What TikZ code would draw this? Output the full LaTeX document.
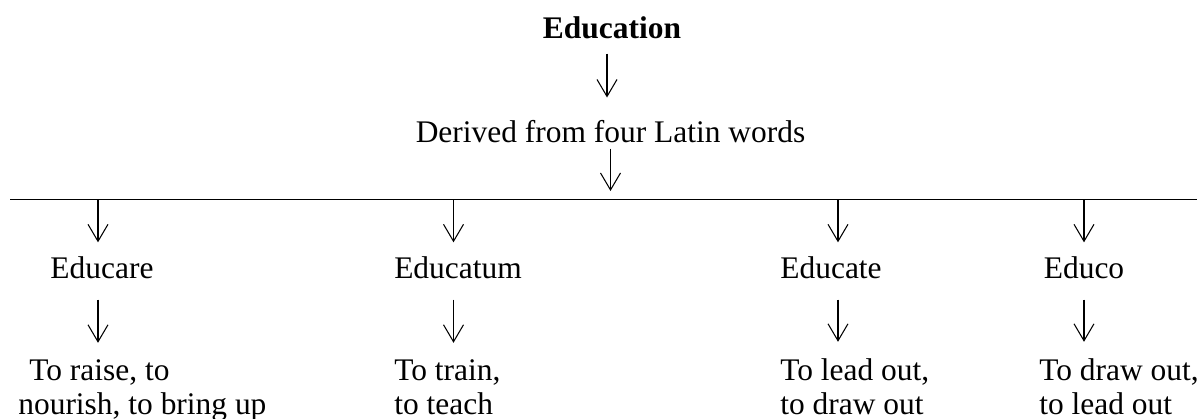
\documentclass[tikz,border=0pt]{standalone}
\usepackage{fontspec}
\setmainfont{Liberation Serif}
\usepackage{tikz}
\usetikzlibrary{arrows.meta}
\definecolor{ink}{HTML}{000000}
\tikzset{
  >={Straight Barb[length=3.4mm,width=4mm]},
  every node/.style={font=\fontsize{17.9pt}{18.8pt}\selectfont,text=ink,inner sep=0pt},
  title/.style={anchor=base,font=\fontsize{17.9pt}{18.8pt}\selectfont\bfseries},
  word/.style={anchor=base},
  meaning/.style={anchor=base west,align=left},
  arrow/.style={->,line width=0.6pt,draw=ink},
  bar/.style={line width=0.75pt,draw=ink}
}

\begin{document}
\begin{tikzpicture}[x=0.02cm,y=-0.02cm]
  \useasboundingbox (0,0) rectangle (1197,419);
  \node[title] (edu) at (612,38) {Education};
  \node[word] (derived) at (610.5,142) {Derived from four Latin words};

  % the bar and where the four words hang from it
  \coordinate (barl) at (10,199.5);
  \coordinate (barr) at (1197,199.5);
  \coordinate (h1) at (98,199.5);
  \coordinate (h2) at (453.5,199.5);
  \coordinate (h3) at (838,199.5);
  \coordinate (h4) at (1084,199.5);

  \node[word] (educare) at (102,278) {Educare};
  \node[word] (educatum) at (458,278) {Educatum};
  \node[word] (educate) at (831,278) {Educate};
  \node[word] (educo) at (1084,278) {Educo};

  % base of a two-line node is its last line
  \node[meaning] (raise) at (18,414) {\hspace*{.35em}To raise, to\\nourish, to bring up};
  \node[meaning] (train) at (394,414) {To train,\\to teach};
  \node[meaning] (lead) at (780,414) {To lead out,\\to draw out};
  \node[meaning] (draw) at (1039,414) {To draw out,\\to lead out};

  \draw[arrow,shorten <=0.3cm,shorten >=0.44cm] ([xshift=-0.1cm]edu.south) -- ([xshift=-0.1cm]edu.south |- derived.north);
  \draw[arrow,shorten <=0.12cm,shorten >=0.17cm] (derived.south) -- (derived.south |- barl);
  \draw[bar] (barl) -- (barr);

  \draw[arrow,shorten >=0.27cm] (h1) -- (h1 |- educare.north);
  \draw[arrow,shorten >=0.27cm] (h2) -- (h2 |- educatum.north);
  \draw[arrow,shorten >=0.27cm] (h3) -- (h3 |- educate.north);
  \draw[arrow,shorten >=0.27cm] (h4) -- (h4 |- educo.north);

  \draw[arrow,shorten <=0.42cm,shorten >=0.34cm] (h1 |- educare.south) -- (h1 |- raise.north);
  \draw[arrow,shorten <=0.42cm,shorten >=0.34cm] (h2 |- educatum.south) -- (h2 |- train.north);
  \draw[arrow,shorten <=0.42cm,shorten >=0.34cm] (h3 |- educate.south) -- (h3 |- lead.north);
  \draw[arrow,shorten <=0.42cm,shorten >=0.34cm] (h4 |- educo.south) -- (h4 |- draw.north);
\end{tikzpicture}
\end{document}
